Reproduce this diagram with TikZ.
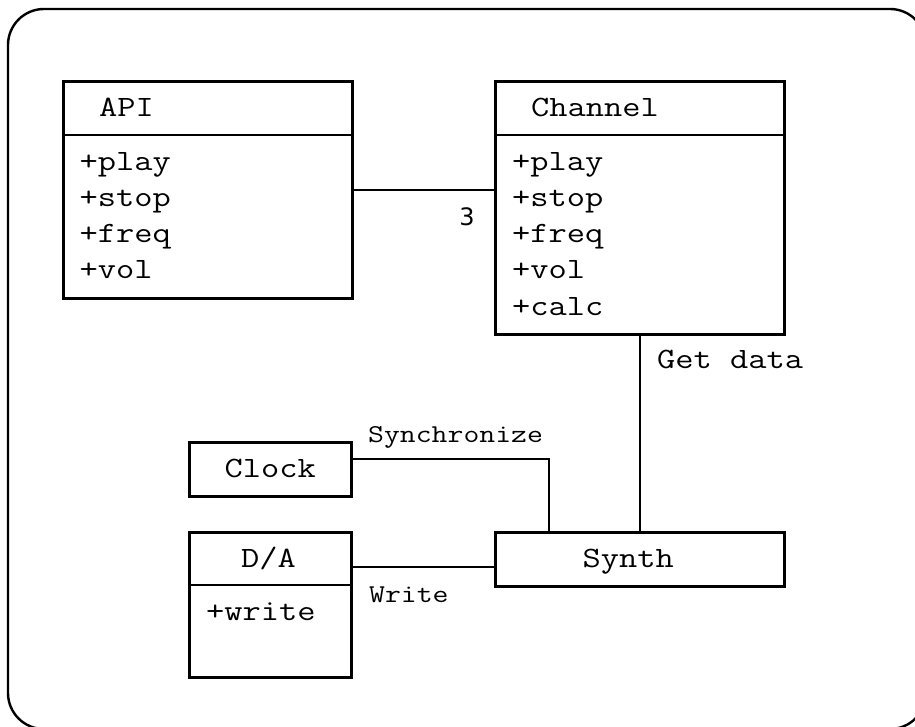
\documentclass[tikz,border=0pt]{standalone}
\usepackage{fontspec}
\newfontfamily\monofont[FakeStretch=1.2]{Latin Modern Mono}
\newfontfamily\numfont{DejaVu Sans}
\begin{document}
\begin{tikzpicture}[x=1pt,y=-1pt,
  umlbox/.style={draw,line width=2.6pt,rectangle,inner sep=0pt,anchor=north west},
  wire/.style={line width=2pt},
  bigtxt/.style={inner sep=0pt,anchor=base west,font=\monofont\fontsize{29.5}{36}\selectfont},
  smalltxt/.style={inner sep=0pt,anchor=base west,font=\monofont\fontsize{25.7}{32}\selectfont},
  numtxt/.style={inner sep=0pt,font=\numfont\fontsize{24}{28}\selectfont}]
\useasboundingbox (0,0) rectangle (915,727);
% outer frame
\draw[line width=2.4pt,rounded corners=36pt] (8,9) rectangle (926,729);

% class boxes
\node[umlbox,minimum width=289pt,minimum height=217pt] (api) at (62,80) {};
\draw[line width=2.6pt] (api.north west |- 0,135) -- (api.north east |- 0,135);
\node[umlbox,minimum width=289pt,minimum height=253pt] (chan) at (494,80) {};
\draw[line width=2.6pt] (chan.north west |- 0,135) -- (chan.north east |- 0,135);
\node[umlbox,minimum width=162pt,minimum height=54pt] (clock) at (188,441) {};
\node[umlbox,minimum width=162pt,minimum height=145pt] (da) at (188,531) {};
\draw[line width=2.6pt] (da.north west |- 0,585) -- (da.north east |- 0,585);
\node[umlbox,minimum width=289pt,minimum height=54pt] (synth) at (494,531) {};

% titles
\node[bigtxt] (apit) at (99,117) {API};
\node[bigtxt] (chant) at (531,117) {Channel};
\node[bigtxt] (clockt) at (224.5,477) {Clock};
\node[bigtxt] (dat) at (241,567) {D/A};
\node[bigtxt] (syntht) at (582.5,567) {Synth};

% members
\node[bigtxt] (api1) at (79.5,171) {+play};
\node[bigtxt] (api2) at (79.5,207) {+stop};
\node[bigtxt] (api3) at (79.5,243) {+freq};
\node[bigtxt] (api4) at (79.5,279) {+vol};
\node[bigtxt] (ch1) at (512,171) {+play};
\node[bigtxt] (ch2) at (512,207) {+stop};
\node[bigtxt] (ch3) at (512,243) {+freq};
\node[bigtxt] (ch4) at (512,279) {+vol};
\node[bigtxt] (ch5) at (512,315) {+calc};
\node[bigtxt] (da1) at (206,620) {+write};

% connectors
\draw[wire] (api.east) -- (chan.west |- api.east);
\draw[wire] (chan.south) -- (synth.north);
\coordinate (syncbend) at (549,459);
\draw[wire] (clock.east |- syncbend) -- (syncbend) -- (synth.north -| syncbend);
\coordinate (writey) at (0,567);
\draw[wire] (da.east |- writey) -- (synth.west |- writey);

% connector labels
\node[numtxt] (mult) at (467,217) {3};
\node[bigtxt] (getdata) at (657,368) {Get data};
\node[smalltxt] (synclbl) at (368,442) {Synchronize};
\node[smalltxt] (writelbl) at (369,602) {Write};
\end{tikzpicture}
\end{document}
